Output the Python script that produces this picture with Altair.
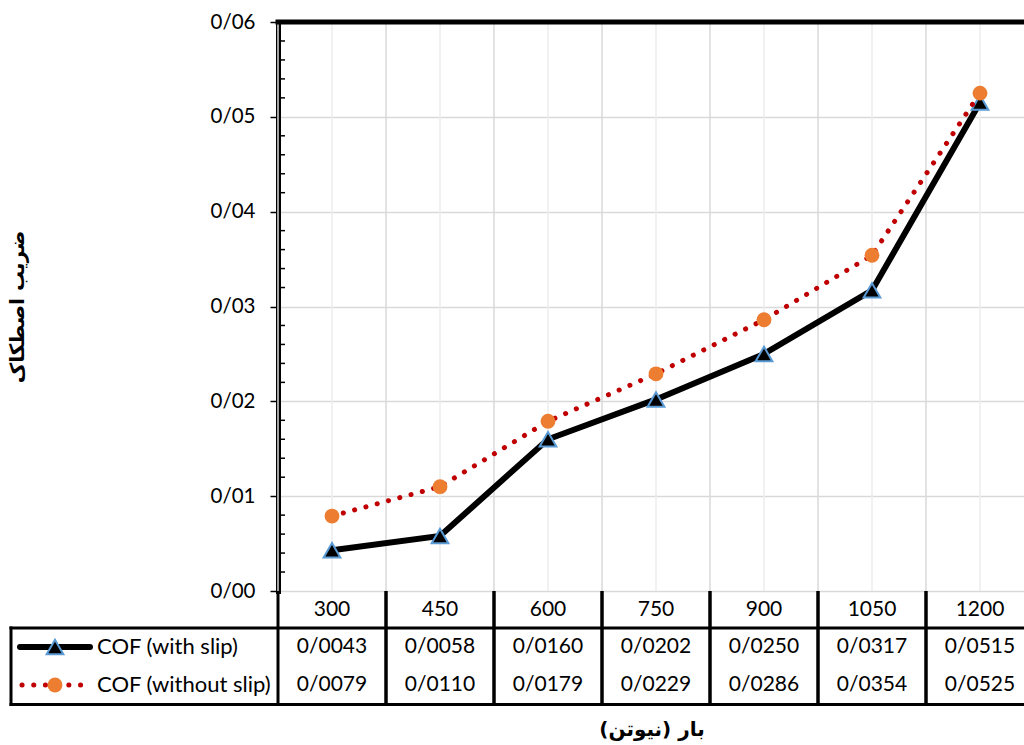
import altair as alt
import pandas as pd

# Load steps (N) and friction coefficients for the two test conditions
loads = ["300", "450", "600", "750", "900", "1050", "1200"]
cof_with_slip = [0.0043, 0.0058, 0.0160, 0.0202, 0.0250, 0.0317, 0.0515]
cof_without_slip = [0.0079, 0.0110, 0.0179, 0.0229, 0.0286, 0.0354, 0.0525]
y_ticks = [0.0, 0.01, 0.02, 0.03, 0.04, 0.05, 0.06]
y_minor = [round(i * 0.002, 3) for i in range(31) if i % 5 != 0]

name_with = "COF (with slip)"
name_without = "COF (without slip)"
y_title = "ضریب اصطکاک"
x_title = "بار (نیوتن)"


def persian_decimal(v, digits=4):
    return f"{v:.{digits}f}".replace(".", "/")


df = pd.DataFrame({
    "load": loads,
    "with_slip": cof_with_slip,
    "without_slip": cof_without_slip,
    "lbl_with": [persian_decimal(v) for v in cof_with_slip],
    "lbl_without": [persian_decimal(v) for v in cof_without_slip],
})
minor_df = pd.DataFrame({"v": y_minor})
one = pd.DataFrame({"k": [0]})

W = 756   # plot width
H = 569   # plot height
FONT = "Lato"
PFONT = "DejaVu Sans"
TRI = 280
DOT = 220

band = alt.Scale(type="band", paddingInner=0, paddingOuter=0)
yscale = alt.Scale(domain=[0, 0.06], nice=False, zero=True)


def xenc(pos=0.5, axis=None):
    return alt.X("load:N", sort=loads, scale=band, bandPosition=pos,
                 axis=axis, title=None)


x_axis = alt.Axis(labels=False, ticks=False, grid=False, domainWidth=5,
                  domainColor="black", domainCap="square", title=None)
y_axis = alt.Axis(values=y_ticks,
                  labelExpr="replace(format(datum.value, '.2f'), '.', '/')",
                  labelFont=FONT, labelFontSize=20.5, labelColor="#000",
                  labelPadding=15, tickSize=8, tickColor="black", tickWidth=1.5,
                  domainColor="black", domainWidth=5, domainCap="square",
                  gridColor="#d9d9d9", gridWidth=1.5, title=None)

base = alt.Chart(df)

# vertical gridlines at category centres and boundaries
grid_center = base.mark_rule(color="#ececec", strokeWidth=1.5).encode(
    x=xenc(0.5), y=alt.value(0), y2=alt.value(H))
grid_edge = base.mark_rule(color="#d9d9d9", strokeWidth=1.5).encode(
    x=xenc(0.0), y=alt.value(0), y2=alt.value(H))

# series
line_with = base.mark_line(color="black", strokeWidth=6).encode(
    x=xenc(0.5, x_axis),
    y=alt.Y("with_slip:Q", scale=yscale, axis=y_axis, title=None))
pts_with = base.mark_point(shape="triangle-up", filled=True, fill="black",
                           stroke="#5b9bd5", strokeWidth=2, size=TRI,
                           opacity=1).encode(
    x=xenc(0.5), y=alt.Y("with_slip:Q", scale=yscale, title=None))
line_without = base.mark_line(color="#c00000", strokeWidth=5,
                              strokeDash=[0.1, 11.6], strokeCap="round").encode(
    x=xenc(0.5), y=alt.Y("without_slip:Q", scale=yscale, title=None))
pts_without = base.mark_circle(color="#ed7d31", size=DOT, opacity=1).encode(
    x=xenc(0.5), y=alt.Y("without_slip:Q", scale=yscale, title=None))

# minor ticks inside the value axis
minor = alt.Chart(minor_df).mark_rule(color="black", strokeWidth=1.5).encode(
    y=alt.Y("v:Q", scale=yscale, title=None),
    x=alt.value(2.5), x2=alt.value(7))

# top border of the plot frame
top_border = alt.Chart(one).mark_rule(color="black", strokeWidth=5).encode(
    x=alt.value(-2.5), x2=alt.value(W), y=alt.value(0))

# data table under the plot
ROW0, ROW1, ROW2 = 588, 625, 663
TLINE, BLINE, LEFT = 606, 682.5, -267
txt = dict(font=FONT, fontSize=21, color="#000", baseline="middle")
ktxt = dict(font=FONT, fontSize=22, color="#000", baseline="middle")

hdr = base.mark_text(**txt).encode(x=xenc(0.5), y=alt.value(ROW0), text="load:N")
row1 = base.mark_text(**txt).encode(x=xenc(0.5), y=alt.value(ROW1), text="lbl_with:N")
row2 = base.mark_text(**txt).encode(x=xenc(0.5), y=alt.value(ROW2), text="lbl_without:N")

seps = base.mark_rule(color="black", strokeWidth=3).encode(
    x=xenc(0.0), y=alt.value(H), y2=alt.value(BLINE))
sep_last = base.mark_rule(color="black", strokeWidth=3).encode(
    x=xenc(1.0), y=alt.value(H), y2=alt.value(BLINE))
hlines = alt.layer(
    alt.Chart(one).mark_rule(color="black", strokeWidth=3, strokeCap="square").encode(
        x=alt.value(LEFT), x2=alt.value(W), y=alt.value(TLINE)),
    alt.Chart(one).mark_rule(color="black", strokeWidth=3, strokeCap="square").encode(
        x=alt.value(LEFT), x2=alt.value(W), y=alt.value(BLINE)),
    alt.Chart(one).mark_rule(color="black", strokeWidth=3, strokeCap="square").encode(
        x=alt.value(LEFT), y=alt.value(TLINE), y2=alt.value(BLINE)),
)

# legend keys inside the table
key_with_line = alt.Chart(one).mark_rule(color="black", strokeWidth=6,
                                         strokeCap="round").encode(
    x=alt.value(-258), x2=alt.value(-188), y=alt.value(ROW1))
key_with_pt = alt.Chart(one).mark_point(shape="triangle-up", filled=True,
                                        fill="black", stroke="#5b9bd5",
                                        strokeWidth=2, size=TRI, opacity=1).encode(
    x=alt.value(-223), y=alt.value(ROW1))
key_without_line = alt.Chart(one).mark_rule(color="#c00000", strokeWidth=5,
                                            strokeDash=[0.1, 11.6],
                                            strokeCap="round").encode(
    x=alt.value(-256), x2=alt.value(-190), y=alt.value(ROW2))
key_without_pt = alt.Chart(one).mark_circle(color="#ed7d31", size=DOT,
                                            opacity=1).encode(
    x=alt.value(-223), y=alt.value(ROW2))
key_with_txt = alt.Chart(one).mark_text(align="left", **ktxt).encode(
    x=alt.value(-181), y=alt.value(ROW1), text=alt.value(name_with))
key_without_txt = alt.Chart(one).mark_text(align="left", **ktxt).encode(
    x=alt.value(-181), y=alt.value(ROW2), text=alt.value(name_without))

# axis titles
ytitle = alt.Chart(one).mark_text(font=PFONT, fontSize=20, fontWeight="bold",
                                  angle=270, color="#000", baseline="middle").encode(
    x=alt.value(-260), y=alt.value(285), text=alt.value(y_title))
xtitle = alt.Chart(one).mark_text(font=PFONT, fontSize=20, fontWeight="bold",
                                  color="#000", baseline="middle").encode(
    x=alt.value(374), y=alt.value(708), text=alt.value(x_title))

chart = alt.layer(
    grid_center, grid_edge, minor,
    line_with, pts_with, line_without, pts_without,
    top_border,
    hdr, row1, row2, seps, sep_last, hlines,
    key_with_line, key_with_pt, key_without_line, key_without_pt,
    key_with_txt, key_without_txt,
    ytitle, xtitle,
).properties(
    width=W, height=H,
    autosize=alt.AutoSizeParams(type="none"),
    padding={"left": 278, "top": 22, "right": -10, "bottom": 154},
).configure_view(stroke=None).configure(background="white")

chart.save("out.html", embed_options={"renderer": "svg", "actions": False})
